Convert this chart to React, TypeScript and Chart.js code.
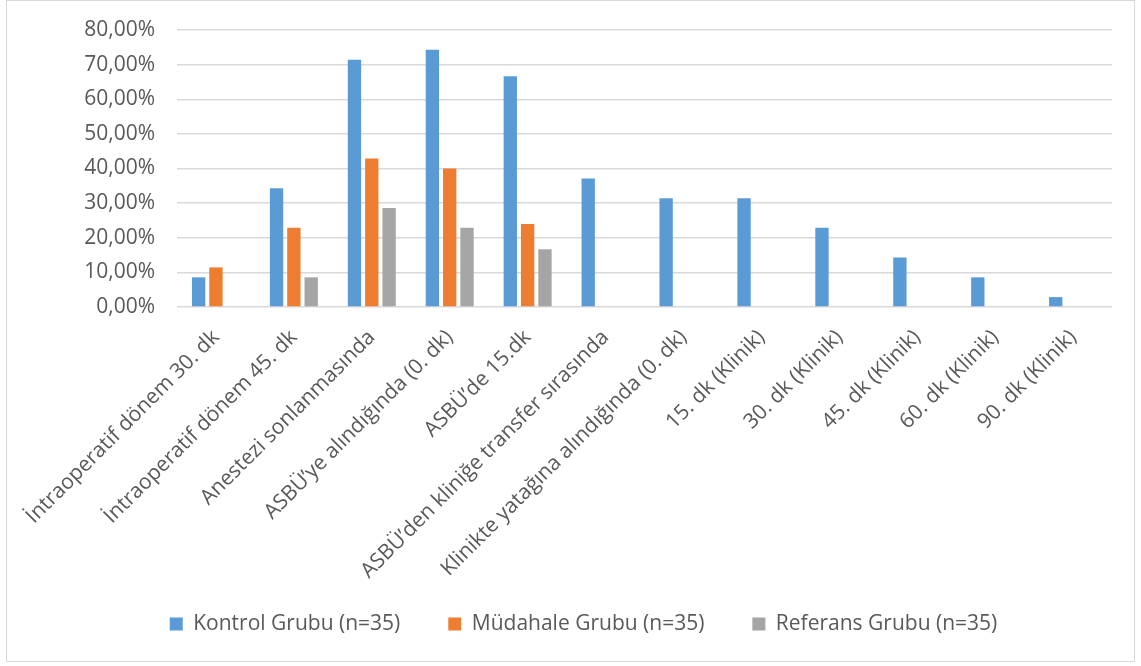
import React, { useEffect, useRef } from "react";
import { Chart, registerables } from "chart.js";

Chart.register(...registerables);

const categories = [
  "İntraoperatif dönem 30. dk",
  "İntraoperatif dönem 45. dk",
  "Anestezi sonlanmasında",
  "ASBÜ’ye alındığında (0. dk)",
  "ASBÜ’de 15.dk",
  "ASBÜ’den kliniğe transfer sırasında",
  "Klinikte yatağına alındığında (0. dk)",
  "15. dk (Klinik)",
  "30. dk (Klinik)",
  "45. dk (Klinik)",
  "60. dk (Klinik)",
  "90. dk (Klinik)",
];

const kontrol = [8.57, 34.29, 71.43, 74.29, 66.67, 37.14, 31.43, 31.43, 22.86, 14.29, 8.57, 2.86];
const mudahale = [11.43, 22.86, 42.86, 40.0, 24.0, null, null, null, null, null, null, null];
const referans = [null, 8.57, 28.57, 22.86, 16.67, null, null, null, null, null, null, null];

const seriesNames = ["Kontrol Grubu (n=35)", "Müdahale Grubu (n=35)", "Referans Grubu (n=35)"];
const seriesColors = ["#5B9BD5", "#ED7D31", "#A5A5A5"];

const yMin = 0;
const yMax = 80;
const yStep = 10;

const FONT = "'Open Sans', sans-serif";
const TEXT = "#595959";

export default function App() {
  const ref = useRef<HTMLCanvasElement | null>(null);

  useEffect(() => {
    if (!ref.current) return;
    const padLeft = 55;
    const chart = new Chart(ref.current, {
      type: "bar",
      data: {
        labels: categories,
        datasets: [kontrol, mudahale, referans].map((d, i) => ({
          label: seriesNames[i],
          data: d,
          backgroundColor: seriesColors[i],
          borderWidth: 0,
          categoryPercentage: 0.667,
          barPercentage: 0.77,
        })),
      },
      options: {
        animation: false,
        responsive: false,
        maintainAspectRatio: false,
        layout: { padding: { left: padLeft, right: 29, top: 30, bottom: 21.5 } },
        plugins: {
          tooltip: { enabled: false },
          legend: {
            position: "bottom",
            labels: {
              boxWidth: 13,
              boxHeight: 13,
              padding: 48,
              color: TEXT,
              font: { family: FONT, size: 21 },
            },
          },
        },
        scales: {
          x: {
            grid: { display: false, drawTicks: false },
            border: { display: false },
            ticks: {
              color: TEXT,
              font: { family: FONT, size: 21 },
              minRotation: 45,
              maxRotation: 45,
              autoSkip: false,
              padding: 18,
            },
            afterFit: (s: any) => {
              s.height = 258.5;
              s._computeLabelArea = () => undefined;
            },
          },
          y: {
            min: yMin,
            max: yMax,
            grid: { color: "#d9d9d9", lineWidth: 1.5, drawTicks: false },
            border: { display: false },
            ticks: {
              stepSize: yStep,
              color: TEXT,
              font: { family: FONT, size: 21 },
              padding: 22,
              callback: (v: any) => Number(v).toFixed(2).replace(".", ",") + "%",
            },
            afterFit: (s: any) => {
              s.width = 177 - padLeft;
              s.paddingTop = 0;
              s.paddingBottom = 0;
            },
          },
        },
      },
    });
    return () => chart.destroy();
  }, []);

  return (
    <div style={{ position: "fixed", left: 0, top: 0, width: 1141, height: 666, background: "#fff" }}>
      <div
        style={{
          position: "absolute",
          left: 6,
          top: 0,
          width: 1129,
          height: 662,
          border: "1px solid #d9d9d9",
          boxSizing: "border-box",
        }}
      />
      <canvas ref={ref} width={1141} height={666} style={{ position: "absolute", left: 0, top: 0 }} />
    </div>
  );
}
